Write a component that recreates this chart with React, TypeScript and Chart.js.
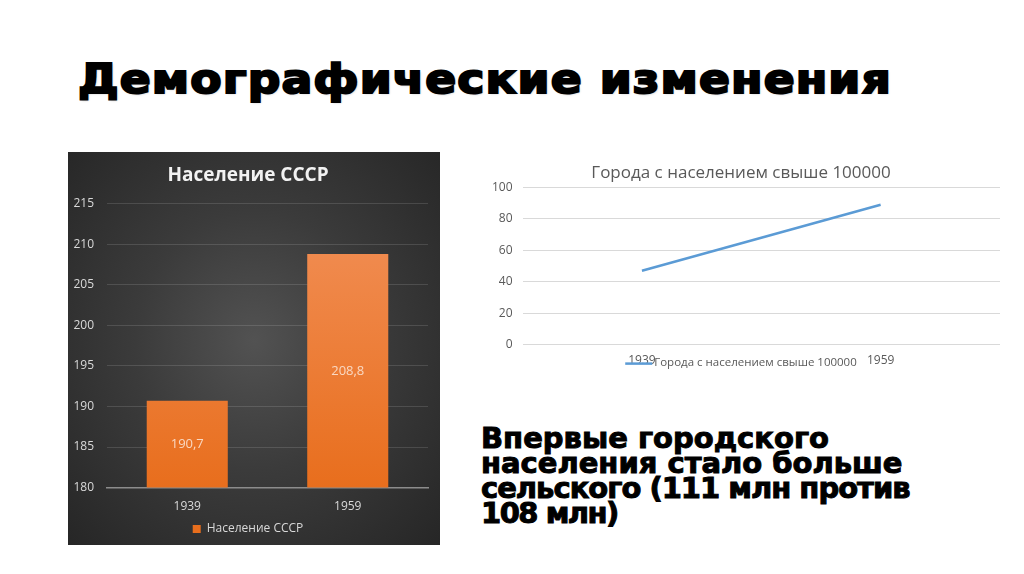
import { useEffect, useRef } from 'react'
import { Chart, registerables } from 'chart.js'

Chart.register(...registerables)

// Население СССР, млн
const years = ['1939', '1959']
const population = [190.7, 208.8]
const popTicks = { min: 180, max: 215, step: 5 }

// Города с населением свыше 100000
const cityYears = ['1939', '1959']
const bigCities = [47, 89]
const cityTicks = { min: 0, max: 100, step: 20 }

const FONT = "'Open Sans', 'Noto Sans', sans-serif"

// value labels in the middle of each bar
const barLabels = {
  id: 'barLabels',
  afterDraw(chart: any) {
    const ctx = chart.ctx
    const xs = chart.scales.x
    const ys = chart.scales.y
    const values = chart.data.datasets[0].data as number[]
    const base = ys.getPixelForValue(ys.min)
    ctx.save()
    ctx.fillStyle = '#f9d8c2'
    ctx.font = `13px ${FONT}`
    ctx.textAlign = 'center'
    ctx.textBaseline = 'middle'
    values.forEach((v, i) => {
      const top = ys.getPixelForValue(v)
      ctx.fillText(String(v).replace('.', ','), xs.getPixelForValue(i), (top + base) / 2)
    })
    ctx.restore()
  },
}

// legend drawn on the tick line, like the original slide
const lineLegend = {
  id: 'lineLegend',
  afterDraw(chart: any) {
    const { ctx, chartArea } = chart
    const label = chart.data.datasets[0].label as string
    ctx.save()
    ctx.font = `11.5px ${FONT}`
    const tw = ctx.measureText(label).width
    const lw = 27
    const total = lw + 2 + tw
    const x0 = chart.width / 2 - total / 2
    const y = chartArea.bottom + 19
    ctx.strokeStyle = '#5b9bd5'
    ctx.lineWidth = 2.5
    ctx.beginPath()
    ctx.moveTo(x0, y)
    ctx.lineTo(x0 + lw, y)
    ctx.stroke()
    ctx.fillStyle = '#595959'
    ctx.textBaseline = 'middle'
    ctx.fillText(label, x0 + lw + 2, y - 1)
    ctx.restore()
  },
}

function PopulationChart() {
  const ref = useRef<HTMLCanvasElement | null>(null)

  useEffect(() => {
    if (!ref.current) return
    const chart = new Chart(ref.current, {
      type: 'bar',
      data: {
        labels: years,
        datasets: [
          {
            label: 'Население СССР',
            data: population,
            backgroundColor: (c: any) => {
              const area = c.chart.chartArea
              if (!area) return '#ed7d31'
              const g = c.chart.ctx.createLinearGradient(0, area.top, 0, area.bottom)
              g.addColorStop(0, '#f29058')
              g.addColorStop(1, '#e86e1d')
              return g
            },
            barPercentage: 0.505,
            categoryPercentage: 1,
          },
        ],
      },
      options: {
        responsive: true,
        maintainAspectRatio: false,
        animation: false,
        layout: { padding: { left: 0, right: 12, top: 6, bottom: 0 } },
        plugins: {
          title: {
            display: true,
            text: 'Население СССР',
            color: '#f2f2f2',
            font: { family: FONT, size: 19, weight: 'bold' },
            padding: { top: 6, bottom: 17 },
          },
          legend: {
            position: 'bottom',
            labels: {
              color: '#d9d9d9',
              boxWidth: 8,
              boxHeight: 8,
              padding: 5,
              font: { family: FONT, size: 12 },
            },
          },
          tooltip: { enabled: false },
        },
        scales: {
          x: {
            grid: { display: false },
            border: { color: '#8c8c8c', width: 1.5 },
            ticks: { color: '#d9d9d9', font: { family: FONT, size: 12 }, padding: 4 },
          },
          y: {
            min: popTicks.min,
            max: popTicks.max,
            grid: { color: 'rgba(255,255,255,0.13)', drawTicks: false },
            border: { display: false },
            ticks: {
              stepSize: popTicks.step,
              color: '#d9d9d9',
              font: { family: FONT, size: 12 },
              padding: 13,
            },
            afterFit: (scale: any) => {
              scale.width = 39
            },
          },
        },
      },
      plugins: [barLabels],
    })
    return () => chart.destroy()
  }, [])

  return <canvas ref={ref} />
}

function CitiesChart() {
  const ref = useRef<HTMLCanvasElement | null>(null)

  useEffect(() => {
    if (!ref.current) return
    const chart = new Chart(ref.current, {
      type: 'line',
      data: {
        labels: cityYears,
        datasets: [
          {
            label: 'Города с населением свыше 100000',
            data: bigCities,
            borderColor: '#5b9bd5',
            borderWidth: 2.5,
            pointRadius: 0,
            tension: 0,
          },
        ],
      },
      options: {
        responsive: true,
        maintainAspectRatio: false,
        animation: false,
        layout: { padding: { left: 4, right: 4, top: 0, bottom: 9 } },
        plugins: {
          title: {
            display: true,
            text: 'Города с населением свыше 100000',
            color: '#595959',
            font: { family: FONT, size: 17, weight: 'normal' },
            padding: { top: 5, bottom: 4 },
          },
          legend: { display: false },
          tooltip: { enabled: false },
        },
        scales: {
          x: {
            offset: true,
            grid: { display: false },
            border: { display: false },
            ticks: { color: '#595959', font: { family: FONT, size: 12 }, padding: 1 },
          },
          y: {
            min: cityTicks.min,
            max: cityTicks.max,
            grid: { color: '#d9d9d9', drawTicks: false },
            border: { display: false },
            ticks: {
              stepSize: cityTicks.step,
              color: '#595959',
              font: { family: FONT, size: 12 },
              padding: 10,
            },
          },
        },
      },
      plugins: [lineLegend],
    })
    return () => chart.destroy()
  }, [])

  return <canvas ref={ref} />
}

export default function App() {
  useEffect(() => {
    document.body.style.margin = '0'
  }, [])

  return (
    <div
      style={{
        position: 'relative',
        width: 1024,
        height: 574,
        background: '#ffffff',
        overflow: 'hidden',
      }}
    >
      <div
        style={{
          position: 'absolute',
          left: 78,
          top: 54,
          fontFamily: "'DejaVu Sans', sans-serif",
          fontWeight: 'bold',
          fontSize: 40,
          letterSpacing: 1,
          color: '#000',
          WebkitTextStroke: '2px #000',
          textShadow: '1px 1px 2px rgba(0,0,0,0.25)',
          whiteSpace: 'nowrap',
          lineHeight: '50px',
          transform: 'scaleX(1.14)',
          transformOrigin: 'left center',
        }}
      >
        Демографические изменения
      </div>

      <div
        style={{
          position: 'absolute',
          left: 68,
          top: 152,
          width: 372,
          height: 393,
          background:
            'radial-gradient(ellipse at 50% 48%, #525252 0%, #3b3b3b 45%, #262626 100%)',
        }}
      >
        <PopulationChart />
      </div>

      <div
        style={{
          position: 'absolute',
          left: 478,
          top: 158,
          width: 526,
          height: 220,
        }}
      >
        <CitiesChart />
      </div>

      <div
        style={{
          position: 'absolute',
          left: 481,
          top: 426,
          width: 540,
          fontFamily: "'DejaVu Sans', sans-serif",
          fontWeight: 'bold',
          fontSize: 29,
          lineHeight: '25px',
          color: '#000',
          WebkitTextStroke: '1px #000',
          whiteSpace: 'nowrap',
        }}
      >
        <div>Впервые городского</div>
        <div>населения стало больше</div>
        <div style={{ letterSpacing: -1 }}>сельского (111 млн против</div>
        <div style={{ letterSpacing: -1.5 }}>108 млн)</div>
      </div>
    </div>
  )
}
